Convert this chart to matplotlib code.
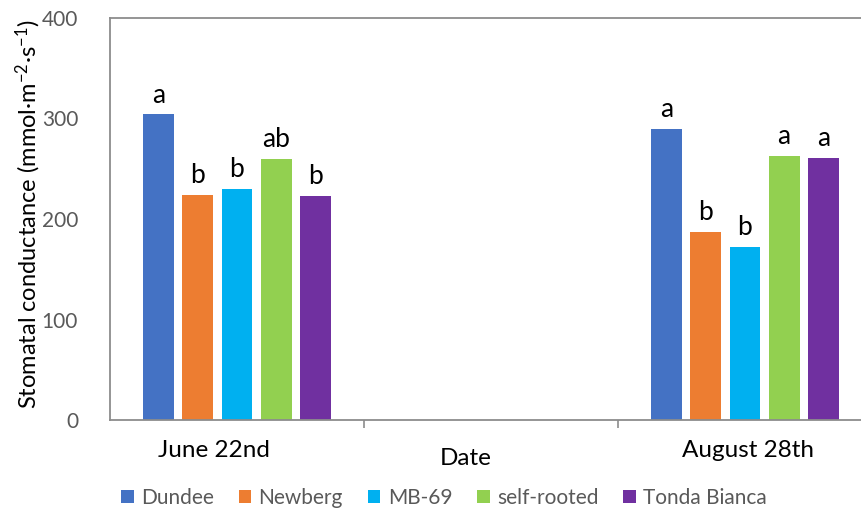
import numpy as np
import matplotlib
matplotlib.use("Agg")
import matplotlib.pyplot as plt

plt.rcParams["font.family"] = ["Lato", "DejaVu Sans"]
plt.rcParams["mathtext.fontset"] = "custom"
plt.rcParams["mathtext.rm"] = "Lato"
plt.rcParams["mathtext.default"] = "regular"

dates = ["June 22nd", "August 28th"]
cultivars = ["Dundee", "Newberg", "MB-69", "self-rooted", "Tonda Bianca"]
colors = ["#4472C4", "#ED7D31", "#00B0F0", "#92D050", "#7030A0"]
# one row per cultivar: [June 22nd, August 28th]
dundee = [304, 290]
newberg = [224, 187]
mb69 = [230, 172]
self_rooted = [260, 263]
tonda = [223, 261]
values = [dundee, newberg, mb69, self_rooted, tonda]
# significance letters per cultivar
letters = [["a", "a"], ["b", "b"], ["b", "b"], ["ab", "a"], ["b", "a"]]

group_x = np.array([0, 2])  # middle category ("Date") is empty
step = 0.154
width = 0.122

fig = plt.figure(figsize=(8.62, 5.12), dpi=100)
ax = fig.add_axes([110 / 862, 92 / 512, 762 / 862, 402 / 512])

for i, (name, vals, col) in enumerate(zip(cultivars, values, colors)):
    xs = group_x + (i - 2) * step
    ax.bar(xs, vals, width=width, color=col, label=name, zorder=2)
    for x, v, l in zip(xs, vals, letters[i]):
        ax.annotate(l, (x, v), xytext=(0, 8.5), textcoords="offset points",
                    ha="center", va="baseline", fontsize=19, color="black")

ax.set_xlim(-0.5, 2.5)
ax.set_ylim(0, 400)
ax.set_yticks([0, 100, 200, 300, 400])
ax.tick_params(axis="y", length=0, pad=23, labelsize=15, labelcolor="#595959")

# category boundaries as tick marks
ax.set_xticks([0.5, 1.5])
ax.set_xticklabels([])
ax.tick_params(axis="x", length=6, width=1.2, color="#8c8c8c")

for s in ["left", "bottom", "top"]:
    ax.spines[s].set_color("#8c8c8c")
    ax.spines[s].set_linewidth(1.3)
ax.spines["right"].set_visible(False)

ax.text(-0.09, -0.075, dates[0], transform=ax.get_xaxis_transform(),
        ha="center", va="center", fontsize=17.5)
ax.text(2.01, -0.075, dates[1], transform=ax.get_xaxis_transform(),
        ha="center", va="center", fontsize=17.5)
ax.text(0.9, -0.095, "Date", transform=ax.get_xaxis_transform(),
        ha="center", va="center", fontsize=17.5)

fig.text(28 / 862, 1 - 214 / 512, "Stomatal conductance (mmol·m$^{-2}$·s$^{-1}$)",
         rotation=90, ha="center", va="center", fontsize=17)

fig.legend(loc="center", bbox_to_anchor=(444 / 862, 14 / 512), ncol=5, frameon=False,
           fontsize=15, handlelength=0.6, handleheight=0.6, handletextpad=0.35,
           columnspacing=1.2, labelcolor="#595959")

fig.savefig("out.png", dpi=100)
